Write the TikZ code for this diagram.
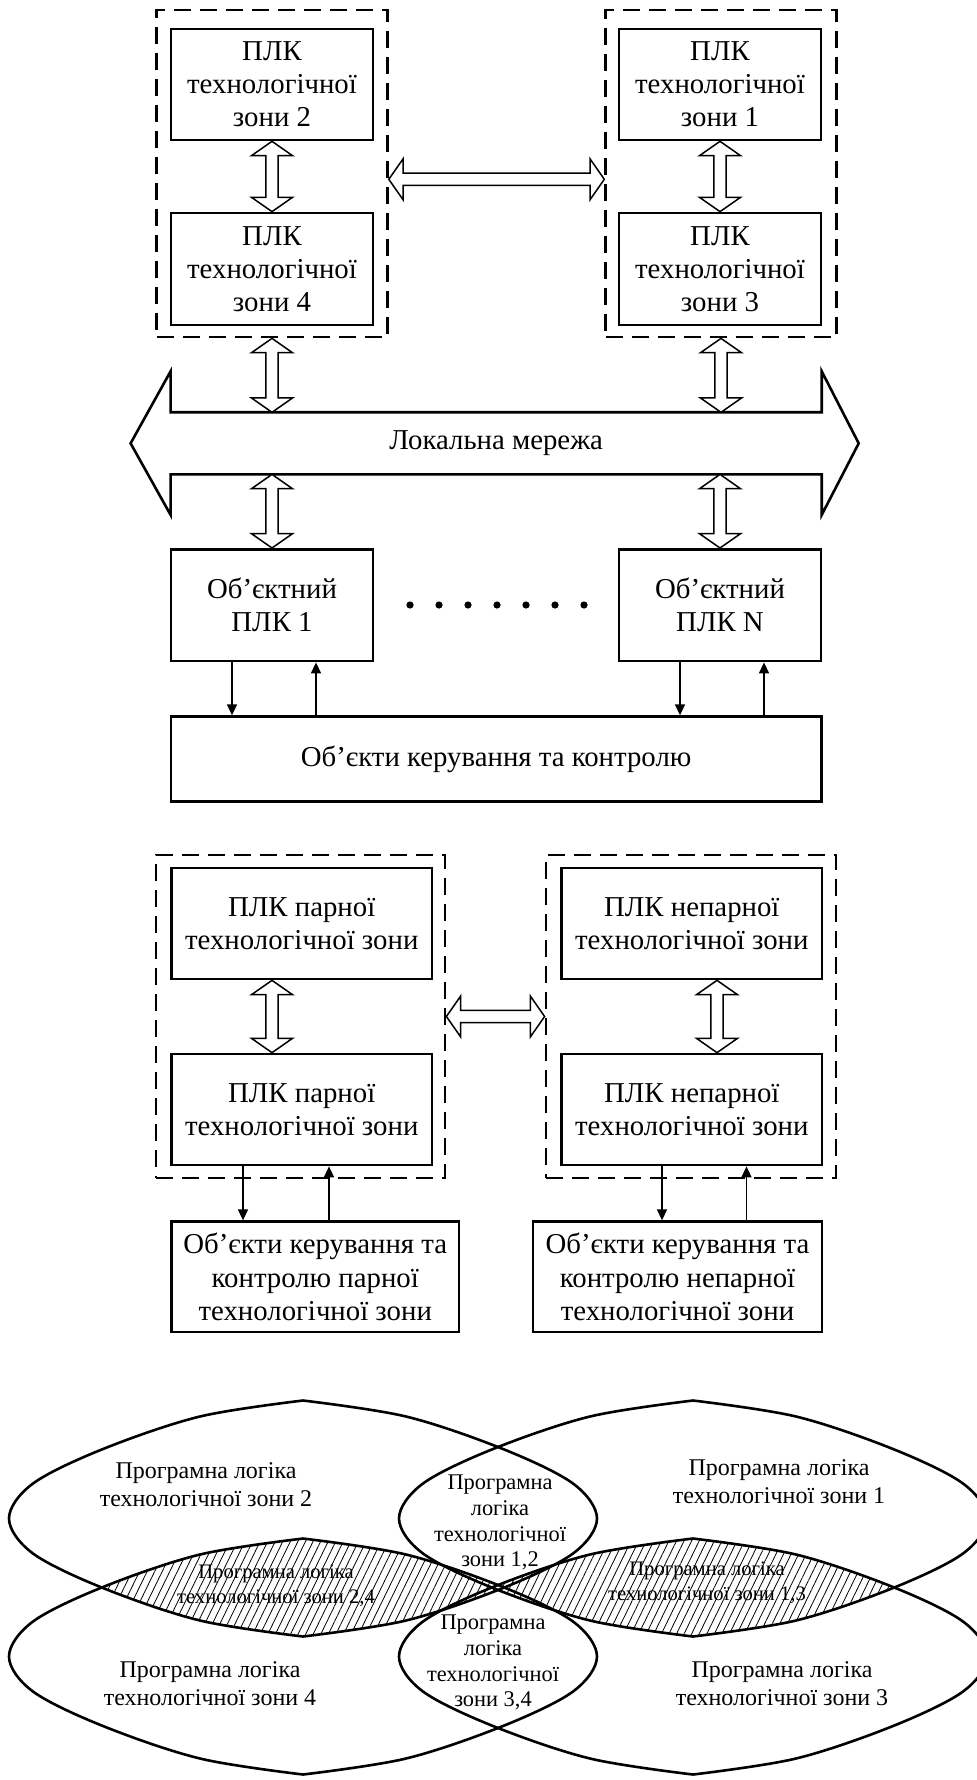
\documentclass[tikz,border=0pt]{standalone}
\usepackage{fontspec}
\setmainfont{Liberation Serif}
\usetikzlibrary{arrows.meta,calc,patterns.meta}

% font sizes used in the drawing
\newcommand\bxfont{\fontsize{14.4}{16.6}\selectfont}
\newcommand\vnfont{\fontsize{12}{14.15}\selectfont}
\newcommand\lnfont{\fontsize{11.2}{12.9}\selectfont}
\newcommand\htfont{\fontsize{10.3}{12.6}\selectfont}

\tikzset{
  box/.style={draw, line width=1.35pt, inner sep=0pt, align=center, font=\bxfont},
  zone/.style={draw, line width=1.4pt, dash pattern=on 8.5pt off 4.5pt, inner sep=0pt},
  hollow/.style={draw, line width=0.75pt, fill=white, line join=miter},
  sig/.style={line width=0.75pt, -{Triangle[length=5.5pt,width=5pt]}},
  lensline/.style={line width=1.3pt},
  hatch/.style={pattern={Lines[angle=64,distance=3.4pt,line width=0.4pt]}},
  vtext/.style={inner sep=0pt, align=center},
}

% hollow double arrow, vertical: #1 top end, #2 bottom end
\newcommand\vdarrow[2]{%
  \draw[hollow] let \p1=#1, \p2=#2 in
    (\x1,\y1) -- (\x1+10.25pt,\y1-7.15pt) -- (\x1+3.1pt,\y1-7.15pt)
    -- (\x1+3.1pt,\y2+7.15pt) -- (\x1+10.25pt,\y2+7.15pt) -- (\x1,\y2)
    -- (\x1-10.25pt,\y2+7.15pt) -- (\x1-3.1pt,\y2+7.15pt)
    -- (\x1-3.1pt,\y1-7.15pt) -- (\x1-10.25pt,\y1-7.15pt) -- cycle;}

% hollow double arrow, horizontal: #1 left end, #2 right end
\newcommand\hdarrow[2]{%
  \draw[hollow] let \p1=#1, \p2=#2 in
    (\x1,\y1) -- (\x1+7.15pt,\y1+10.25pt) -- (\x1+7.15pt,\y1+3.1pt)
    -- (\x2-7.15pt,\y1+3.1pt) -- (\x2-7.15pt,\y1+10.25pt) -- (\x2,\y1)
    -- (\x2-7.15pt,\y1-10.25pt) -- (\x2-7.15pt,\y1-3.1pt)
    -- (\x1+7.15pt,\y1-3.1pt) -- (\x1+7.15pt,\y1-10.25pt) -- cycle;}

% outline of one zone of program logic (pointed top and bottom)
\newcommand\lensshape{plot[smooth,tension=0.55] coordinates {(0,-118) (-103,-102) (-200,-69.5) (-270,-35) (-294,0) (-270,35) (-200,69.5) (-103,102) (0,118)} -- plot[smooth,tension=0.55] coordinates {(0,118) (103,102) (200,69.5) (270,35) (294,0) (270,-35) (200,-69.5) (103,-102) (0,-118)} -- cycle}

\begin{document}
\begin{tikzpicture}[x=0.5pt, y=-0.5pt]
\useasboundingbox (0,0) rectangle (977,1780);

% ---------------- distributed structure with local network ----------------
\node[zone, minimum width=115.4pt, minimum height=163.5pt] (dashL) at (272,173.5) {};
\node[zone, minimum width=115.3pt, minimum height=163.5pt] (dashR) at (721,173.5) {};

\node[box, minimum width=101pt, minimum height=55.5pt] (p2) at (272,84.5) {ПЛК\\технологічної\\зони 2};
\node[box, minimum width=101pt, minimum height=56pt] (p4) at (272,269) {ПЛК\\технологічної\\зони 4};
\node[box, minimum width=101pt, minimum height=55.5pt] (p1) at (720,84.5) {ПЛК\\технологічної\\зони 1};
\node[box, minimum width=101pt, minimum height=56pt] (p3) at (720,269) {ПЛК\\технологічної\\зони 3};

\coordinate (hy) at (0,179.3);
\vdarrow{(p2.south)}{(p4.north)}
\vdarrow{(p1.south)}{(p3.north)}
\hdarrow{(dashL.east |- hy)}{(dashR.west |- hy)}

% local network
\node[inner sep=0pt, minimum width=325.15pt, minimum height=30.65pt, font=\bxfont] (net) at (496.15,443.35) {Локальна мережа};
\draw[line width=1.3pt, line join=miter]
  (net.north west) -- (net.north east) -- ++(0,-41) -- ($(net.east)+(37,0)$)
  -- ($(net.south east)+(0,40.5)$) -- (net.south east) -- (net.south west)
  -- ++(0,40.5) -- ($(net.west)+(-40,0)$) -- ($(net.north west)+(0,-41)$) -- cycle;

\node[box, minimum width=101pt, minimum height=55.85pt] (o1) at (272,605.2) {Об’єктний\\ПЛК 1};
\node[box, minimum width=101pt, minimum height=55.85pt] (oN) at (720,605.2) {Об’єктний\\ПЛК N};
\foreach \i in {0,...,6} \fill ({410+29*\i},605) circle[radius=1.8pt];

\vdarrow{(dashL.south)}{(net.north -| dashL.south)}
\vdarrow{(dashR.south)}{(net.north -| dashR.south)}
\vdarrow{(net.south -| o1.north)}{(o1.north)}
\vdarrow{(net.south -| oN.north)}{(oN.north)}

\node[box, minimum width=325.15pt, minimum height=42.5pt] (obj) at (496.15,759.2) {Об’єкти керування та контролю};

\coordinate (a1) at (232,0);
\coordinate (a2) at (316,0);
\coordinate (a3) at (680,0);
\coordinate (a4) at (764,0);
\draw[sig] (o1.south -| a1) -- (obj.north -| a1);
\draw[sig] (obj.north -| a2) -- (o1.south -| a2);
\draw[sig] (oN.south -| a3) -- (obj.north -| a3);
\draw[sig] (obj.north -| a4) -- (oN.south -| a4);

% ---------------- even / odd zones ----------------
\node[zone, minimum width=144.5pt, minimum height=161.5pt] (dash2L) at (300.5,1016.5) {};
\node[zone, minimum width=145pt, minimum height=161.5pt] (dash2R) at (691,1016.5) {};

\node[box, minimum width=130.25pt, minimum height=55.5pt] (e1) at (301.75,923.5) {ПЛК парної\\технологічної зони};
\node[box, minimum width=130.25pt, minimum height=55.5pt] (e2) at (301.75,1109.5) {ПЛК парної\\технологічної зони};
\node[box, minimum width=130.2pt, minimum height=55.5pt] (d1) at (691.8,923.5) {ПЛК непарної\\технологічної зони};
\node[box, minimum width=130.2pt, minimum height=55.5pt] (d2) at (691.8,1109.5) {ПЛК непарної\\технологічної зони};

\coordinate (ax) at (272,0);
\coordinate (bx) at (717,0);
\vdarrow{(e1.south -| ax)}{(e2.north -| ax)}
\vdarrow{(d1.south -| bx)}{(d2.north -| bx)}
\hdarrow{(dash2L.east)}{(dash2R.west)}

\node[box, minimum width=143.75pt, minimum height=55.15pt] (eobj) at (315.25,1276.85) {Об’єкти керування та\\контролю парної\\технологічної зони};
\node[box, minimum width=144.5pt, minimum height=55.15pt] (dobj) at (677.5,1276.85) {Об’єкти керування та\\контролю непарної\\технологічної зони};

\coordinate (b1) at (243,0);
\coordinate (b2) at (329,0);
\coordinate (b3) at (662,0);
\coordinate (b4) at (746.5,0);
\draw[sig] (e2.south -| b1) -- (eobj.north -| b1);
\draw[sig] (eobj.north -| b2) -- (e2.south -| b2);
\draw[sig] (d2.south -| b3) -- (dobj.north -| b3);
\draw[sig] (dobj.north -| b4) -- (d2.south -| b4);

% ---------------- program logic of the zones ----------------
\begin{scope}
\clip (0,1380) rectangle (977,1780);

\node[vtext, font=\vnfont] (t2) at (206,1484.4) {Програмна логіка\\технологічної зони 2};
\node[vtext, font=\vnfont] (t1) at (779,1481.4) {Програмна логіка\\технологічної зони 1};
\node[vtext, font=\vnfont] (t4) at (210,1683.9) {Програмна логіка\\технологічної зони 4};
\node[vtext, font=\vnfont] (t3) at (782,1684) {Програмна логіка\\технологічної зони 3};
\node[vtext, font=\lnfont] (t12) at (500,1522.6) {Програмна\\логіка\\технологічної\\зони 1,2};
\node[vtext, font=\lnfont] (t34) at (493,1662.6) {Програмна\\логіка\\технологічної\\зони 3,4};
\node[vtext, font=\htfont] (t24) at (276,1585.5) {Програмна логіка\\технологічної зони 2,4};
\node[vtext, font=\htfont] (t13) at (707,1583) {Програмна логіка\\технологічної зони 1,3};

\begin{scope}
  \clip[shift={(303,1518.5)}] \lensshape;
  \fill[hatch, shift={(303,1656.5)}] \lensshape;
\end{scope}
\begin{scope}
  \clip[shift={(693,1518.5)}] \lensshape;
  \fill[hatch, shift={(693,1656.5)}] \lensshape;
\end{scope}

\draw[lensline, shift={(303,1518.5)}] \lensshape;
\draw[lensline, shift={(693,1518.5)}] \lensshape;
\draw[lensline, shift={(303,1656.5)}] \lensshape;
\draw[lensline, shift={(693,1656.5)}] \lensshape;
\end{scope}
\end{tikzpicture}
\end{document}
